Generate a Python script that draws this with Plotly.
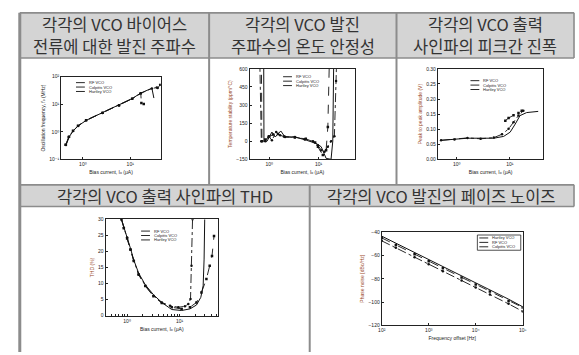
import plotly.graph_objects as go

W, H = 579, 355

# ---------------- data ----------------
series_names = ["RF VCO", "Colpitts VCO", "Hartley VCO"]

# oscillation frequency vs. bias current
freq_rf_x = [0.44, 0.50, 0.62, 0.79, 1.17, 2.6, 5.8, 11.0, 16.7, 28.7, 36.5, 38.0, 42.8]
freq_rf_y = [0.33, 0.64, 1.07, 1.62, 2.6, 4.85, 9.1, 15.8, 25.0, 37.5, 40.5, 39.0, 50.6]
freq_col_x = [0.45, 0.52, 0.63, 0.80, 1.2, 2.6, 5.8, 11.0, 16.7, 23.0, 28.7, 31.6]
freq_col_y = [0.36, 0.68, 1.10, 1.66, 2.65, 4.9, 9.3, 16.1, 25.5, 32.0, 38.2, 16.8]
freq_har_x = [0.43, 0.51, 0.62, 0.79, 1.17, 2.61, 5.8, 11.0, 16.7, 17.2, 19.3]
freq_har_y = [0.34, 0.66, 1.09, 1.64, 2.62, 4.9, 9.2, 16.0, 25.3, 11.1, 10.3]

# temperature stability vs. bias current
temp_rf_x = [0.64, 0.69, 0.83, 0.97, 1.13, 1.38, 1.66, 2.09, 3.31, 5.25, 7.7, 9.7, 11.3, 13.2, 15.4, 17.9, 20.9, 22.6, 23.3]
temp_rf_y = [700, 0, 0, 41, 8, 76, 49, 35, 35, 14, 0, -33, -74, -87, -46, 0, 41, 500, 700]
temp_col_x = [0.77, 0.78, 0.90, 1.13, 1.32, 1.71, 2.09, 3.31, 5.7, 9.0, 11.3, 14.2, 17.9, 19.4, 20.3]
temp_col_y = [700, 0, 0, 76, 35, 85, 35, 35, 8, -19, -46, -142, -150, 0, 700]
temp_har_x = [0.69, 0.71, 0.83, 1.0, 1.2, 1.5, 2.0, 3.3, 5.5, 8.5, 9.7, 12.2, 14.2, 15.4, 16.6]
temp_har_y = [700, 0, 15, 40, 55, 60, 40, 30, 20, -10, -46, -115, -74, 117, 700]

# peak-to-peak amplitude vs. bias current
amp_rf_x = [0.51, 0.91, 1.6, 2.82, 4.99, 7.11, 9.45, 11.7, 14.5, 17.9]
amp_rf_y = [0.063, 0.066, 0.071, 0.068, 0.072, 0.083, 0.101, 0.123, 0.145, 0.161]
amp_col_x = [0.51, 0.91, 1.6, 2.82, 4.99, 7.64, 10.1, 12.6, 15.5, 20.6, 34.0]
amp_col_y = [0.063, 0.067, 0.070, 0.070, 0.070, 0.076, 0.090, 0.117, 0.145, 0.155, 0.159]
amp_har_x = [8.2, 9.45, 11.7, 14.5, 16.7]
amp_har_y = [0.128, 0.137, 0.146, 0.154, 0.161]

# THD vs. bias current
thd_rf_x = [0.78, 0.865, 1.0, 1.16, 1.34, 1.66, 2.22, 3.18, 4.57, 6.57, 9.44, 12.6, 14.6, 16.1, 16.8, 17.6]
thd_rf_y = [30, 27.4, 24.3, 20.7, 17.1, 12.9, 9.3, 6.2, 4.1, 3.1, 2.6, 2.9, 3.6, 5.2, 15.5, 30]
thd_col_x = [0.78, 0.865, 1.0, 1.16, 1.34, 1.66, 2.22, 3.18, 4.57, 7.06, 10.9, 15.7, 20.9, 25.3, 28.0, 29.2, 30.0]
thd_col_y = [30, 27.4, 24.3, 20.9, 17.3, 13.2, 9.6, 6.5, 4.1, 1.9, 1.6, 2.1, 3.3, 5.7, 9.3, 17.6, 30]
thd_har_x = [0.78, 0.865, 1.0, 1.16, 1.34, 1.66, 2.22, 3.18, 4.57, 7.06, 10.9, 15.7, 20.9, 26.0, 32.3, 37.3, 41.3, 45.1]
thd_har_y = [30, 27.2, 24.0, 20.5, 17.0, 12.7, 9.2, 6.0, 3.9, 2.6, 2.1, 2.6, 4.1, 7.2, 11.4, 15.5, 18.6, 24.8]

# phase noise vs. frequency offset
pn_names = ["Hartley VCO", "RF VCO", "Colpitts VCO"]
pn_x = [100, 200, 500, 1000, 2000, 5000, 10000, 20000, 50000, 100000]
pn_har = [-45.0, -51.0, -59.0, -65.0, -71.0, -79.0, -85.0, -91.0, -99.0, -104.6]
pn_rf = [-47.5, -53.5, -61.5, -67.5, -73.5, -81.5, -87.5, -93.5, -101.5, -108.0]
pn_col = [-43.5, -49.5, -57.5, -63.5, -69.5, -77.5, -83.5, -89.5, -97.5, -104.0]

# decade tick labels
bias_ticks = [1, 10]
bias_ticktext = ["10⁰", "10¹"]
freq_ticks = [0.1, 1, 10, 100]
freq_ticktext = ["10⁻¹", "10⁰", "10¹", "10²"]
offset_ticks = [100, 1000, 10000, 100000]
offset_ticktext = ["10²", "10³", "10⁴", "10⁵"]

headers_row1 = [
    ("각각의 VCO 바이어스", "전류에 대한 발진 주파수"),
    ("각각의 VCO 발진", "주파수의 온도 안정성"),
    ("각각의 VCO 출력", "사인파의 피크간 진폭"),
]
headers_row2 = ["각각의 VCO 출력 사인파의 THD", "각각의 VCO 발진의 페이즈 노이즈"]

# ---------------- helpers ----------------
def px(x):
    return x / W

def py(y):
    return 1 - y / H

styles = {
    "RF VCO": dict(line=dict(color="#111", width=0.9, dash="dashdot"),
                   marker=dict(symbol="circle", size=2.5, color="#111"), mode="lines+markers"),
    "Colpitts VCO": dict(line=dict(color="#111", width=1.0), mode="lines"),
    "Hartley VCO": dict(line=dict(color="#111", width=0.9, dash="dash"),
                        marker=dict(symbol="square", size=2.5, color="#111"), mode="lines+markers"),
}

fig = go.Figure()

def add(xs, ys, name, k):
    suffix = "" if k == 1 else str(k)
    fig.add_trace(go.Scatter(x=xs, y=ys, name=name, showlegend=False,
                             xaxis="x" + suffix, yaxis="y" + suffix, **styles[name]))

add(freq_rf_x, freq_rf_y, "RF VCO", 1)
add(freq_col_x, freq_col_y, "Colpitts VCO", 1)
add(freq_har_x, freq_har_y, "Hartley VCO", 1)
add(temp_rf_x, temp_rf_y, "RF VCO", 2)
add(temp_col_x, temp_col_y, "Colpitts VCO", 2)
add(temp_har_x, temp_har_y, "Hartley VCO", 2)
add(amp_rf_x, amp_rf_y, "RF VCO", 3)
add(amp_col_x, amp_col_y, "Colpitts VCO", 3)
add(amp_har_x, amp_har_y, "Hartley VCO", 3)
add(thd_rf_x, thd_rf_y, "RF VCO", 4)
add(thd_col_x, thd_col_y, "Colpitts VCO", 4)
add(thd_har_x, thd_har_y, "Hartley VCO", 4)
add(pn_x, pn_har, "Hartley VCO", 5)
add(pn_x, pn_rf, "RF VCO", 5)
add(pn_x, pn_col, "Colpitts VCO", 5)

TICK_FONT = dict(family="Liberation Sans, DejaVu Sans", size=5, color="#222")
TITLE_FONT_DARK = dict(family="Liberation Sans, DejaVu Sans", size=5, color="#222")
TITLE_FONT_RED = dict(family="Liberation Sans, DejaVu Sans", size=5, color="#9a4a2a")

def axis(domain, anchor, **kw):
    d = dict(domain=domain, anchor=anchor, showline=True, mirror=True, linecolor="#222",
             linewidth=1, ticks="inside", ticklen=2, tickwidth=0.7, tickcolor="#222",
             showgrid=False, zeroline=False, tickfont=TICK_FONT)
    d.update(kw)
    return d

bias_title = dict(text="Bias current, Iₒ (μA)", font=TITLE_FONT_DARK, standoff=4)

# plot boxes (pixel extents)
boxes = {
    1: (58, 159, 75, 159),
    2: (249, 356, 67, 159),
    3: (440, 547, 67, 159),
    4: (103, 217, 220, 318),
    5: (383, 526, 233, 328),
}

def dom(k):
    x0, x1, y0, y1 = boxes[k]
    return [px(x0), px(x1)], [py(y1), py(y0)]

layout_axes = {}
xd, yd = dom(1)
layout_axes["xaxis"] = axis(xd, "y", type="log", range=[-0.458, 1.646], tickvals=bias_ticks,
                            ticktext=bias_ticktext, title=bias_title)
layout_axes["yaxis"] = axis(yd, "x", type="log", range=[-1, 2], tickvals=freq_ticks,
                            ticktext=freq_ticktext,
                            title=dict(text="Oscillation frequency, fₒ (MHz)",
                                       font=TITLE_FONT_DARK, standoff=3))
xd, yd = dom(2)
layout_axes["xaxis2"] = axis(xd, "y2", type="log", range=[-0.4, 1.74], tickvals=bias_ticks,
                             ticktext=bias_ticktext, title=bias_title)
layout_axes["yaxis2"] = axis(yd, "x2", range=[-150, 600], tickvals=[-150, 0, 150, 300, 450, 600],
                             title=dict(text="Temperature stability (ppm/°C)",
                                        font=TITLE_FONT_RED, standoff=3))
xd, yd = dom(3)
layout_axes["xaxis3"] = axis(xd, "y3", type="log", range=[-0.352, 1.63], tickvals=bias_ticks,
                             ticktext=bias_ticktext, title=bias_title)
layout_axes["yaxis3"] = axis(yd, "x3", range=[0, 0.30], dtick=0.05, tickformat=".2f",
                             title=dict(text="Peak to peak amplitude (V)",
                                        font=TITLE_FONT_RED, standoff=3))
xd, yd = dom(4)
layout_axes["xaxis4"] = axis(xd, "y4", type="log", range=[-0.41, 1.73], tickvals=bias_ticks,
                             ticktext=bias_ticktext, title=bias_title,
                             minor=dict(ticks="inside", ticklen=1.2, tickcolor="#222",
                                        tickvals=[0.5, 0.6, 0.7, 0.8, 0.9, 2, 3, 4, 5, 6, 7, 8, 9,
                                                  20, 30, 40, 50]))
layout_axes["yaxis4"] = axis(yd, "x4", range=[0, 30], dtick=5,
                             title=dict(text="THD (%)", font=TITLE_FONT_RED, standoff=3))
xd, yd = dom(5)
layout_axes["xaxis5"] = axis(xd, "y5", type="log", range=[2, 5], tickvals=offset_ticks,
                             ticktext=offset_ticktext,
                             title=dict(text="Frequency offset [Hz]", font=TITLE_FONT_DARK, standoff=4))
layout_axes["yaxis5"] = axis(yd, "x5", range=[-120, -40], dtick=20,
                             title=dict(text="Phase noise [dBc/Hz]", font=TITLE_FONT_RED, standoff=3))

# ---------------- table frame ----------------
GRID = "#8c8c8c"
HEAD_BG = "#d4d4d4"
L, R = 16, 578
TOP, H1B, H2T, H2B = 10, 56, 185, 207
C1, C2, C3 = 208, 398, 310

shapes = []

def rect(x0, y0, x1, y1, fill):
    shapes.append(dict(type="rect", xref="paper", yref="paper", x0=px(x0), x1=px(x1),
                       y0=py(y1), y1=py(y0), fillcolor=fill, line=dict(width=0), layer="below"))

def seg(x0, y0, x1, y1, w=1.6, color=GRID):
    shapes.append(dict(type="line", xref="paper", yref="paper", x0=px(x0), x1=px(x1),
                       y0=py(y0), y1=py(y1), line=dict(color=color, width=w)))

rect(L, TOP, R, H1B, HEAD_BG)
rect(L, H2T, R, H2B, HEAD_BG)
for yy in (TOP, H1B, H2T, H2B):
    seg(L, yy, R, yy)
seg(L, TOP, L, H, w=3)
seg(R, TOP, R, H1B)
seg(R, H2T, R, H2B)
seg(C1, TOP, C1, H2T, w=2)
seg(C2, TOP, C2, H2T, w=2)
seg(C3, H2T, C3, H, w=2)

annotations = []
HEAD_FONT = dict(family="Noto Sans CJK KR", size=16.5, color="#333")
centers1 = [(L + C1) / 2, (C1 + C2) / 2, (C2 + R) / 2]
for cx, (l1, l2) in zip(centers1, headers_row1):
    annotations.append(dict(xref="paper", yref="paper", x=px(cx), y=py(21), text=l1,
                            showarrow=False, font=HEAD_FONT, xanchor="center", yanchor="middle"))
    annotations.append(dict(xref="paper", yref="paper", x=px(cx), y=py(44), text=l2,
                            showarrow=False, font=HEAD_FONT, xanchor="center", yanchor="middle"))
centers2 = [(L + C3) / 2, (C3 + R) / 2]
for cx, t in zip(centers2, headers_row2):
    annotations.append(dict(xref="paper", yref="paper", x=px(cx), y=py(196), text=t,
                            showarrow=False, font=HEAD_FONT, xanchor="center", yanchor="middle"))

# ---------------- in-plot legends ----------------
LEG_FONT = dict(family="Liberation Sans, DejaVu Sans", size=4, color="#222")
dash_of = {"RF VCO": "dashdot", "Colpitts VCO": "solid", "Hartley VCO": "dash"}

def legend(x0, y0, names, boxed=False, dy=4.5):
    if boxed:
        shapes.append(dict(type="rect", xref="paper", yref="paper", x0=px(x0 - 2), x1=px(x0 + 42),
                           y0=py(y0 + dy * len(names) - 1), y1=py(y0 - 3),
                           line=dict(color="#222", width=0.8), fillcolor="white"))
    for i, n in enumerate(names):
        yy = y0 + i * dy
        shapes.append(dict(type="line", xref="paper", yref="paper", x0=px(x0), x1=px(x0 + 9),
                           y0=py(yy), y1=py(yy), line=dict(color="#111", width=0.9, dash=dash_of[n])))
        annotations.append(dict(xref="paper", yref="paper", x=px(x0 + 11), y=py(yy), text=n,
                                showarrow=False, font=LEG_FONT, xanchor="left", yanchor="middle"))

legend(73, 81, series_names)
legend(283, 75, series_names)
legend(473, 79, series_names)
legend(139, 232, series_names)
legend(482, 239, pn_names, boxed=True)

fig.update_layout(
    width=W, height=H, margin=dict(l=0, r=0, t=0, b=0),
    paper_bgcolor="white", plot_bgcolor="white",
    shapes=shapes, annotations=annotations, **layout_axes,
)

fig.write_html("out.html")
